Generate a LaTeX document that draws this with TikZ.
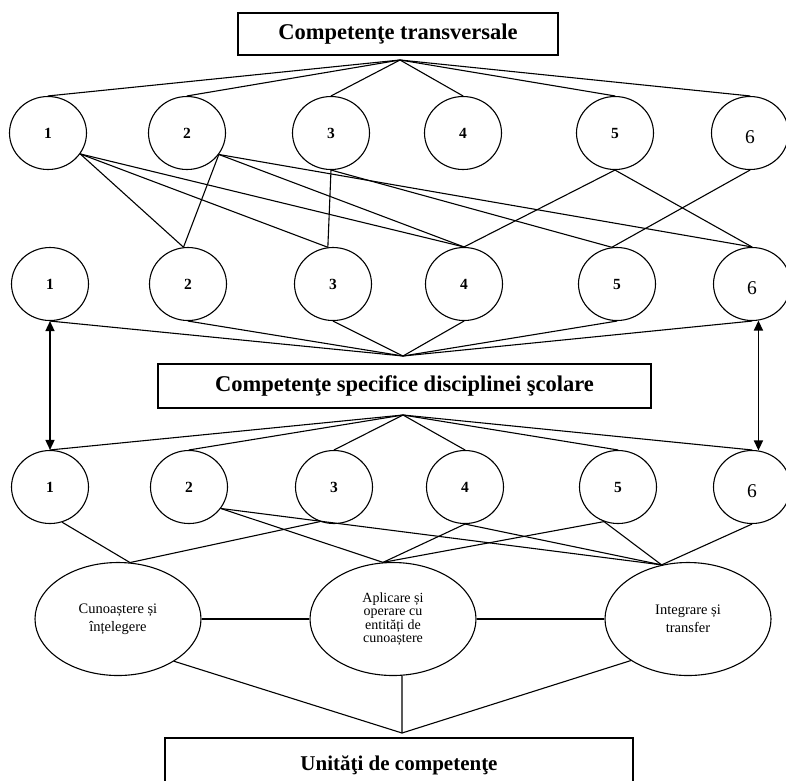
\documentclass[tikz,border=0pt]{standalone}
\usepackage{fontspec}
\setmainfont{Liberation Serif}
\usetikzlibrary{shapes.geometric,arrows.meta}

\tikzset{
  circ/.style={draw, ellipse, minimum width=77pt, minimum height=73pt, inner sep=0pt, font=\bfseries\fontsize{15.5}{17}\selectfont},
  six/.style={font=\fontsize{19.5}{21}\selectfont, text height=21pt, text depth=0pt},
  oval/.style={draw, ellipse, minimum width=166pt, minimum height=113pt, inner sep=0pt, align=center, font=\fontsize{14.5}{18}\selectfont},
  titlebox/.style={draw, rectangle, inner sep=0pt, line width=1.4pt, font=\bfseries\fontsize{22.5}{26}\selectfont},
  dblarrow/.style={>={Triangle[length=10pt,width=9pt]}, <->, line width=1.5pt},
}

\begin{document}
\begin{tikzpicture}[x=1pt, y=-1pt, line width=1.1pt]
    \clip (0,0) rectangle (786,780);

    % Top box
    \node[titlebox, minimum width=320pt, minimum height=42pt] (ct) at (398,34) {Competenţe transversale};
    \coordinate (tA) at (400,60);

    % First row of circles
    \node[circ] (t1) at (48,133) {1};
    \node[circ] (t2) at (187,133) {2};
    \node[circ] (t3) at (331,133) {3};
    \node[circ] (t4) at (463,133) {4};
    \node[circ] (t5) at (615,133) {5};
    \node[circ, six] (t6) at (750,133) {6};

    % Second row of circles
    \node[circ] (s1) at (50,284) {1};
    \node[circ] (s2) at (188,284) {2};
    \node[circ] (s3) at (333,284) {3};
    \node[circ] (s4) at (464,284) {4};
    \node[circ] (s5) at (617,284) {5};
    \node[circ, six] (s6) at (752,284) {6};

    % Middle box
    \node[titlebox, minimum width=493pt, minimum height=44pt] (cs) at (404.5,386) {Competenţe specifice disciplinei şcolare};
    \coordinate (cA) at (403,356);
    \coordinate (cB) at (403,415);

    % Third row of circles
    \node[circ] (u1) at (50,487) {1};
    \node[circ] (u2) at (189,487) {2};
    \node[circ] (u3) at (334,487) {3};
    \node[circ] (u4) at (465,487) {4};
    \node[circ] (u5) at (618,487) {5};
    \node[circ, six] (u6) at (752,487) {6};

    % Ellipses
    \node[oval] (e1) at (118,619) {Cunoaștere și\\înțelegere};
    \node[oval, font=\fontsize{14}{13.5}\selectfont] (e2) at (393,619) {Aplicare și\\operare cu\\entități de\\cunoaștere};
    \node[oval] (e3) at (688,619) {Integrare și\\transfer};

    % Bottom box
    \node[titlebox, minimum width=468pt, minimum height=54pt, font=\bfseries\fontsize{21}{24}\selectfont] (uc) at (399,765) {Unităţi de competenţe};
    \coordinate (bA) at (402,733);

    % Top box to first row
    \draw (tA) -- (t1.north);
    \draw (tA) -- (t2.north);
    \draw (tA) -- (t3.north);
    \draw (tA) -- (t4.north);
    \draw (tA) -- (t5.north);
    \draw (tA) -- (t6.north);

    % First row to second row
    \draw (t1.-33) -- (s2.97);
    \draw (t1.-33) -- (s3.98);
    \draw (t1.-33) -- (s4.north);
    \draw (t2.-34) -- (s2.97);
    \draw (t2.-34) -- (s4.north);
    \draw (t2.-34) -- (s6.north);
    \draw (t3.south) -- (s3.98);
    \draw (t3.south) -- (s5.98);
    \draw (t5.south) -- (s4.north);
    \draw (t5.south) -- (s6.north);
    \draw (t6.south) -- (s5.98);

    % Second row to middle box
    \draw (s1.south) -- (cA);
    \draw (s2.south) -- (cA);
    \draw (s3.south) -- (cA);
    \draw (s4.south) -- (cA);
    \draw (s5.south) -- (cA);
    \draw (s6.south) -- (cA);

    % Middle box to third row
    \draw (cB) -- (u1.north);
    \draw (cB) -- (u2.north);
    \draw (cB) -- (u3.north);
    \draw (cB) -- (u4.north);
    \draw (cB) -- (u5.north);
    \draw (cB) -- (u6.north);

    % Double arrows
    \draw[dblarrow] (s1.south) -- (u1.north);
    \draw[dblarrow] (s6.-80) -- (u6.80);

    % Third row to ellipses
    \draw (u1.-71) -- (e1.78);
    \draw (u3.-112) -- (e1.78);
    \draw (u2.-34) -- (e2.100);
    \draw (u2.-34) -- (e3.116);
    \draw (u4.south) -- (e2.100);
    \draw (u4.south) -- (e3.116);
    \draw (u5.-112) -- (e2.100);
    \draw (u5.-112) -- (e3.116);
    \draw (u6.south) -- (e3.116);

    % Links between ellipses
    \draw (e1.east) -- (e2.west);
    \draw (e2.east) -- (e3.west);

    % Ellipses to bottom box
    \draw (e1.-37) -- (bA);
    \draw (e2.-81) -- (bA);
    \draw (e3.-144) -- (bA);
\end{tikzpicture}
\end{document}
